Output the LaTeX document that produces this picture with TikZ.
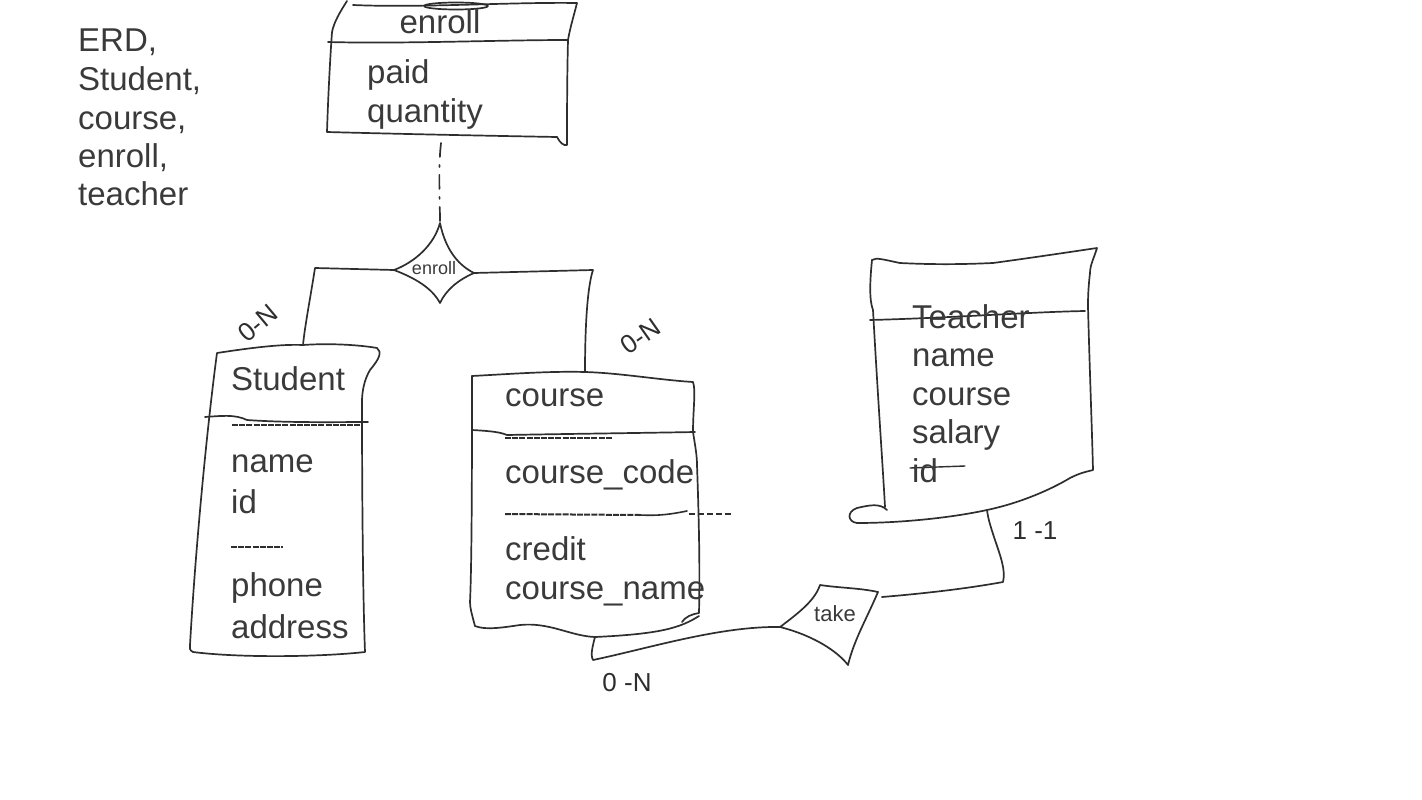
\documentclass[tikz,border=0pt]{standalone}
\usepackage{fontspec}
\setmainfont{Liberation Sans}
\definecolor{txtc}{HTML}{3A3A3A}
\definecolor{inkc}{HTML}{2E2E2E}
\begin{document}
\begin{tikzpicture}[x=1pt,y=-1pt,
  ln/.style={draw=inkc, line width=1.7pt, line cap=round, line join=round},
  txt/.style={text=txtc, font=\fontsize{33}{39}\selectfont, inner sep=0pt, anchor=base west},
  small/.style={text=txtc, inner sep=0pt, anchor=center},
  hand/.style={text=inkc, font=\fontsize{26}{26}\selectfont, inner sep=0pt, anchor=center},
  dense/.style={ln, line width=2pt, dash pattern=on 6pt off 1.2pt, line cap=butt}]
\useasboundingbox (0,0) rectangle (1422,800);

% ---------- left legend text ----------
\node[txt] (l1) at (78,52) {ERD,};
\node[txt] (l2) at (78,91) {Student,};
\node[txt] (l3) at (78,129) {course,};
\node[txt] (l4) at (78,167) {enroll,};
\node[txt] (l5) at (78,205) {teacher};

% ---------- enroll attribute box ----------
\coordinate (eTL) at (347,1);
\draw[ln] (eTL) .. controls (340,12) and (334,22) .. (332,32)
  .. controls (330,60) and (328,100) .. (327,132)
  .. controls (400,134) and (500,136) .. (557,137);
\draw[ln] (353,5) .. controls (420,8) and (510,2) .. (577,3)
  .. controls (574,15) and (570,28) .. (568,40)
  .. controls (567,80) and (567,120) .. (567,145)
  .. controls (564,146) and (560,143) .. (557,137);
\draw[ln] (456,6) ellipse [x radius=32, y radius=3.5];
\draw[ln] (328,42) .. controls (400,44) and (500,40) .. (568,40);
\node[txt, anchor=base] (eT) at (440,34) {enroll};
\node[txt] (eA1) at (367,84) {paid};
\node[txt] (eA2) at (367,122) {quantity};
\coordinate (eBot) at (441,143);

% ---------- enroll relationship diamond ----------
\coordinate (dT) at (440,223);
\coordinate (dR) at (474,273);
\coordinate (dB) at (440,303);
\coordinate (dL) at (394,270);
\draw[ln] (dT) .. controls (446,252) and (460,266) .. (dR)
  .. controls (458,280) and (446,290) .. (dB)
  .. controls (432,288) and (415,278) .. (dL)
  .. controls (415,262) and (434,245) .. (dT);
\node[small, font=\fontsize{18}{18}\selectfont] (dTxt) at (434,268) {enroll};
\draw[ln, dash pattern=on 14pt off 8pt on 2pt off 8pt] (eBot) .. controls (438,170) and (440,200) .. (dT);

% ---------- Student entity ----------
\coordinate (sTop) at (303,345);
\draw[ln] (217,353) .. controls (250,348) and (280,344) .. (sTop)
  .. controls (330,343) and (360,345) .. (377,348)
  .. controls (382,352) and (380,358) .. (370,370)
  .. controls (364,380) and (362,392) .. (362,402)
  .. controls (362,500) and (363,600) .. (365,652)
  .. controls (320,657) and (240,658) .. (193,652)
  .. controls (189,650) and (190,648) .. (190,645)
  .. controls (196,540) and (208,420) .. (217,353);
\draw[ln] (205,417) .. controls (220,416) and (235,414) .. (247,420)
  .. controls (290,423) and (340,422) .. (368,422);
\draw[dense] (232,425) -- (360,425);
\draw[dense] (231,547) -- (283,547);
\node[txt] (sT) at (231,390) {Student};
\node[txt] (s1) at (231,472) {name};
\node[txt] (s2) at (231,513) {id};
\node[txt] (s3) at (231,596) {phone};
\node[txt] (s4) at (231,638) {address};
\node[hand, rotate=40] (lab1) at (258,323) {0-N};

% ---------- course entity ----------
\coordinate (cTop) at (585,372);
\coordinate (cBot) at (595,637);
\draw[ln] (472,376) .. controls (510,374) and (550,371) .. (cTop)
  .. controls (620,373) and (660,380) .. (693,382)
  .. controls (696,390) and (693,410) .. (693,432)
  .. controls (695,445) and (697,455) .. (697,465)
  .. controls (699,520) and (700,570) .. (699,613)
  .. controls (692,614) and (685,617) .. (682,622);
\draw[ln] (699,616) .. controls (680,628) and (660,634) .. (cBot)
  .. controls (570,636) and (550,622) .. (520,625)
  .. controls (500,628) and (485,630) .. (475,626)
  .. controls (472,615) and (470,608) .. (470,602)
  .. controls (472,560) and (472,450) .. (472,376);
\draw[ln] (472,430) .. controls (490,431) and (500,432) .. (507,435)
  .. controls (560,434) and (640,433) .. (695,432);
\draw[dense] (505,438) -- (612,438);
\draw[dense] (505,514) -- (640,515);
\draw[ln, line width=1.6pt] (640,515) .. controls (660,516) and (672,514) .. (687,511);
\draw[ln, line width=1.4pt, dash pattern=on 6pt off 3pt, line cap=butt] (689,514) -- (732,514);
\node[txt] (cT) at (505,406) {course};
\node[txt] (c1) at (505,483) {course\_code};
\node[txt] (c2) at (505,560) {credit};
\node[txt] (c3) at (505,599) {course\_name};
\node[hand, rotate=35] (lab2) at (641,336) {0-N};
\node[hand] (lab3) at (627,683) {0 -N};

% ---------- Teacher entity ----------
\coordinate (tBot) at (987,510);
\draw[ln] (872,260) .. controls (876,257) and (885,260) .. (900,263)
  .. controls (940,265) and (970,264) .. (993,263)
  .. controls (1030,258) and (1070,252) .. (1097,248)
  .. controls (1094,258) and (1090,265) .. (1090,273)
  .. controls (1088,290) and (1088,300) .. (1088,307)
  .. controls (1090,380) and (1092,430) .. (1093,470)
  .. controls (1085,472) and (1080,473) .. (1070,478)
  .. controls (1050,490) and (1020,503) .. (tBot)
  .. controls (950,518) and (900,523) .. (857,523)
  .. controls (848,522) and (846,512) .. (857,508)
  .. controls (870,505) and (880,503) .. (887,510);
\draw[ln] (872,260) .. controls (870,280) and (869,300) .. (873,310)
  .. controls (878,400) and (883,470) .. (885,507);
\draw[ln] (870,320) .. controls (950,318) and (1030,312) .. (1085,311);
\draw[ln, line width=1.4pt] (910,468) -- (965,466);
\node[txt] (tT) at (912,328) {Teacher};
\node[txt] (t1) at (912,366) {name};
\node[txt] (t2) at (912,405) {course};
\node[txt] (t3) at (912,443) {salary};
\node[txt] (t4) at (912,482) {id};
\node[hand] (lab4) at (1035,531) {1 -1};

% ---------- take relationship ----------
\coordinate (kL) at (780,627);
\coordinate (kT) at (820,585);
\coordinate (kR) at (878,592);
\coordinate (kB) at (848,665);
\draw[ln] (kL) .. controls (800,612) and (815,600) .. (kT)
  .. controls (840,588) and (860,588) .. (kR)
  .. controls (866,620) and (854,640) .. (kB)
  .. controls (838,652) and (815,636) .. (kL);
\node[small, font=\fontsize{22}{22}\selectfont] (kTxt) at (835,614) {take};

% ---------- connectors ----------
\draw[ln] (dL) -- (315,268) .. controls (310,300) and (305,325) .. (sTop);
\draw[ln] (dR) -- (593,270) .. controls (588,285) and (585,320) .. (cTop);
\draw[ln] (cBot) .. controls (593,645) and (590,655) .. (593,660)
  .. controls (650,648) and (720,626) .. (kL);
\coordinate (kR2) at (882,597);
\draw[ln] (kR2) .. controls (930,593) and (970,588) .. (1003,582)
  .. controls (1006,570) and (1000,555) .. (995,540)
  .. controls (990,525) and (988,518) .. (tBot);
\end{tikzpicture}
\end{document}
